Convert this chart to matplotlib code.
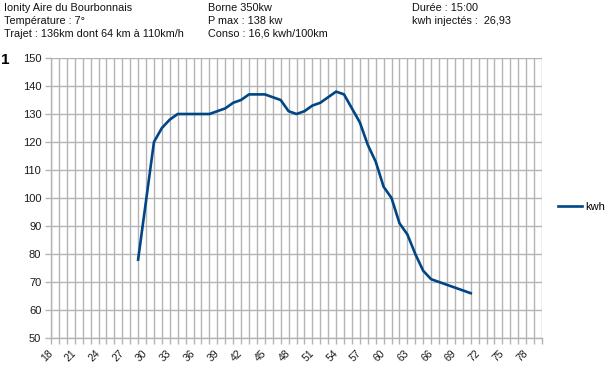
import matplotlib
matplotlib.use("Agg")
import matplotlib.pyplot as plt
import numpy as np

plt.rcParams['font.family'] = ['Liberation Sans', 'DejaVu Sans']

# Data
x_vals = list(range(29, 72))
kwh = [78, 99, 120, 125, 128, 130, 130, 130, 130, 130, 131, 132, 134, 135, 137,
       137, 137, 136, 135, 131, 130, 131, 133, 134, 136, 138, 137, 132, 127, 119,
       113, 104, 100, 91, 87, 80, 74, 71, 70, 69, 68, 67, 66]
x_min, x_max = 18, 80
x_label_ticks = list(range(18, 79, 3))
y_ticks = list(range(50, 151, 10))
series_name = "kwh"

header_col1 = ["Ionity Aire du Bourbonnais", "Température : 7°", "Trajet : 136km dont 64 km à 110km/h"]
header_col2 = ["Borne 350kw", "P max : 138 kw", "Conso : 16,6 kwh/100km"]
header_col3 = ["Durée : 15:00", "kwh injectés :  26,93"]

W, H = 608, 370
fig = plt.figure(figsize=(W / 100, H / 100), dpi=100)
left, right, top, bottom = 51, 542, 58, 338
ax = fig.add_axes([left / W, 1 - bottom / H, (right - left) / W, (bottom - top) / H])

grid_c = '#b3b3b3'
line_c = '#004586'

ax.plot(x_vals, kwh, color=line_c, lw=1.9, solid_joinstyle='round', label=series_name, zorder=3)

ax.set_xlim(x_min, x_max)
ax.set_ylim(50, 150)
ax.set_xticks(list(range(x_min, x_max + 1)))
ax.set_xticklabels([str(v) if v in x_label_ticks else '' for v in range(x_min, x_max + 1)],
                   rotation=45, ha='right', va='center', rotation_mode='anchor', fontsize=7.5)
ax.set_yticks(y_ticks)
ax.set_yticklabels([str(v) for v in y_ticks], fontsize=8)

ax.grid(True, color=grid_c, lw=1.0)
ax.set_axisbelow(True)
for s in ['top', 'right']:
    ax.spines[s].set_visible(False)
for s in ['left', 'bottom']:
    ax.spines[s].set_color(grid_c)
    ax.spines[s].set_linewidth(1.0)
ax.tick_params(axis='both', colors=grid_c, length=4, width=1.0, labelcolor='#1a1a1a')
ax.tick_params(axis='x', pad=6)
ax.tick_params(axis='y', pad=3)

leg = fig.legend(loc='center left', bbox_to_anchor=(554 / W, 1 - 207 / H), frameon=False,
                 fontsize=8, handlelength=2.1, handletextpad=0.3, borderaxespad=0)

# Header texts
rows_y = [8, 21, 34]
for col_x, lines in [(4, header_col1), (208, header_col2), (412, header_col3)]:
    for yy, t in zip(rows_y, lines):
        fig.text(col_x / W, 1 - yy / H, t, fontsize=7.8, ha='left', va='center', color='#111111')

fig.text(0.5 / W, 1 - 60 / H, "1", fontsize=11, fontweight='bold', ha='left', va='center', color='black')

fig.savefig("out.png", dpi=100)
